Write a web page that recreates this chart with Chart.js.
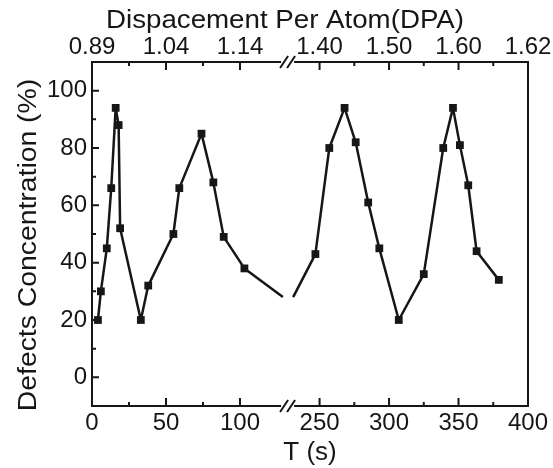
<!DOCTYPE html>
<html>
<head>
<meta charset="utf-8">
<script src="https://cdn.jsdelivr.net/npm/chart.js@4.4.0/dist/chart.umd.min.js"></script>
<style>
  html, body { margin: 0; padding: 0; background: #fff; }
  #wrap { width: 553px; height: 468px; }
</style>
</head>
<body>
<div id="wrap"><canvas id="grafica"></canvas></div>
<script>
// Datos (tiempo en s, concentración en %)
const tiempoIzq = [4, 6, 10, 13, 16, 18, 19, 33, 38, 55, 59, 74, 82, 89, 103];
const concIzq   = [20, 30, 45, 66, 94, 88, 52, 20, 32, 50, 66, 85, 68, 49, 38];
const tiempoDer = [247, 257, 268, 276, 285, 293, 307, 325, 339, 346, 351, 357, 363, 379];
const concDer   = [43, 80, 94, 82, 61, 45, 20, 36, 80, 94, 81, 67, 44, 34];

// donde la línea entra y sale del corte del eje
const corteT    = [129, 231];
const corteConc = [28, 28];

// etiquetas de los ejes
const ticksT    = [0, 50, 100, 250, 300, 350, 400];
const ticksDPA  = ['0.89', '1.04', '1.14', '1.40', '1.50', '1.60', '1.62'];
const menoresT  = [25, 75, 275, 325, 375];
const ticksY    = [0, 20, 40, 60, 80, 100];
const menoresY  = [10, 30, 50, 70, 90];

const NEGRO = '#161616';
const FUENTE = '"Liberation Sans", Arial, sans-serif';

// =============================================================
//      EJE ROTO: tiempo -> coordenada del eje
// =============================================================
const CORTE_BAJO = 130, CORTE_ALTO = 230, HUECO = 5, ESCALA_DER = 0.939;
function aEje(t) {
  return t <= CORTE_BAJO ? t : CORTE_BAJO + HUECO + (t - CORTE_ALTO) * ESCALA_DER;
}
const U_CORTE = CORTE_BAJO + HUECO / 2;

// armar la serie (con un hueco en el corte)
const puntos = [];
const radios = [];
tiempoIzq.forEach((t, i) => { puntos.push({ x: aEje(t), y: concIzq[i] }); radios.push(5.5); });
puntos.push({ x: aEje(corteT[0]), y: corteConc[0] }); radios.push(0);
puntos.push({ x: U_CORTE, y: null }); radios.push(0);
puntos.push({ x: aEje(corteT[1]), y: corteConc[1] }); radios.push(0);
tiempoDer.forEach((t, i) => { puntos.push({ x: aEje(t), y: concDer[i] }); radios.push(5.5); });

const ticksEje = s => { s.ticks = ticksT.map(t => ({ value: aEje(t) })); };

// texto algo ensanchado, como en la figura original
function textoAncho(ctx, texto, x, y, ang, escala) {
  ctx.save();
  ctx.translate(x, y);
  ctx.rotate(ang);
  ctx.scale(escala, 1);
  ctx.fillText(texto, 0, 0);
  ctx.restore();
}

// =============================================================
//      Plugin: marco, ticks hacia dentro, marcas de corte, títulos
// =============================================================
const marcoPlugin = {
  id: 'marco',
  afterDraw(chart) {
    const { ctx, chartArea: a, scales } = chart;
    const xb = scales.x.getPixelForValue(U_CORTE);
    ctx.save();
    ctx.strokeStyle = NEGRO;
    ctx.lineWidth = 2;
    ctx.lineCap = 'butt';

    // marco con hueco arriba y abajo
    ctx.beginPath();
    ctx.moveTo(xb - 7, a.top); ctx.lineTo(a.left, a.top); ctx.lineTo(a.left, a.bottom); ctx.lineTo(xb - 7, a.bottom);
    ctx.moveTo(xb + 6, a.top); ctx.lineTo(a.right, a.top); ctx.lineTo(a.right, a.bottom); ctx.lineTo(xb + 6, a.bottom);
    ctx.stroke();

    // ticks del eje x (abajo y arriba)
    ctx.beginPath();
    const tickX = (t, largo) => {
      const px = scales.x.getPixelForValue(aEje(t));
      ctx.moveTo(px, a.bottom); ctx.lineTo(px, a.bottom - largo);
      ctx.moveTo(px, a.top); ctx.lineTo(px, a.top + largo);
    };
    ticksT.forEach(t => tickX(t, 8));
    menoresT.forEach(t => tickX(t, 4));
    // ticks del eje y
    const tickY = (v, largo) => {
      const py = scales.y.getPixelForValue(v);
      ctx.moveTo(a.left, py); ctx.lineTo(a.left + largo, py);
    };
    ticksY.forEach(v => tickY(v, 7));
    menoresY.forEach(v => tickY(v, 4));
    ctx.stroke();

    // marcas de corte //
    ctx.beginPath();
    [a.top, a.bottom].forEach(y => {
      [-4, 3].forEach(dx => {
        ctx.moveTo(xb + dx - 4, y + 6);
        ctx.lineTo(xb + dx + 4, y - 6);
      });
    });
    ctx.stroke();

    // títulos
    ctx.fillStyle = NEGRO;
    ctx.font = '26px ' + FUENTE;
    ctx.textAlign = 'center';
    ctx.textBaseline = 'alphabetic';
    textoAncho(ctx, 'Dispacement Per Atom(DPA)', 285, 28, 0, 1.065);
    ctx.textBaseline = 'middle';
    textoAncho(ctx, 'Defects Concentration (%)', 29, 245, -Math.PI / 2, 1.09);
    ctx.restore();
  }
};

const fuenteTicks = { family: FUENTE, size: 24 };
const sinRejilla = { display: false, drawTicks: false, tickLength: 0 };

new Chart(document.getElementById('grafica'), {
  type: 'line',
  data: {
    datasets: [{
      data: puntos,
      borderColor: NEGRO,
      backgroundColor: NEGRO,
      borderWidth: 2.5,
      borderJoinStyle: 'round',
      pointStyle: 'rect',
      pointRadius: radios,
      pointBorderWidth: 0,
      spanGaps: false,
      tension: 0
    }]
  },
  options: {
    responsive: true,
    maintainAspectRatio: false,
    animation: false,
    layout: { padding: { left: 0, right: 25, top: 0, bottom: 0 } },
    plugins: { legend: { display: false }, tooltip: { enabled: false } },
    scales: {
      x: {
        type: 'linear',
        position: 'bottom',
        min: 0,
        max: aEje(400),
        afterBuildTicks: ticksEje,
        afterFit: s => { s.height = 62; },
        grid: sinRejilla,
        border: { display: false },
        ticks: {
          callback: (v, i) => ticksT[i],
          font: fuenteTicks, color: NEGRO, padding: 3,
          maxRotation: 0, autoSkip: false
        },
        title: {
          display: true, text: 'T (s)', color: NEGRO,
          font: { family: FUENTE, size: 26 }, padding: { top: 0, bottom: 0 }
        }
      },
      x2: {
        type: 'linear',
        position: 'top',
        min: 0,
        max: aEje(400),
        afterBuildTicks: ticksEje,
        afterFit: s => { s.height = 62; },
        grid: sinRejilla,
        border: { display: false },
        ticks: {
          callback: (v, i) => ticksDPA[i],
          font: fuenteTicks, color: NEGRO, padding: 0,
          maxRotation: 0, autoSkip: false
        }
      },
      y: {
        min: -10,
        max: 110,
        afterBuildTicks: s => { s.ticks = ticksY.map(v => ({ value: v })); },
        afterFit: s => { s.width = 92; },
        grid: sinRejilla,
        border: { display: false },
        ticks: { font: fuenteTicks, color: NEGRO, padding: 5 }
      }
    }
  },
  plugins: [marcoPlugin]
});
</script>
</body>
</html>
